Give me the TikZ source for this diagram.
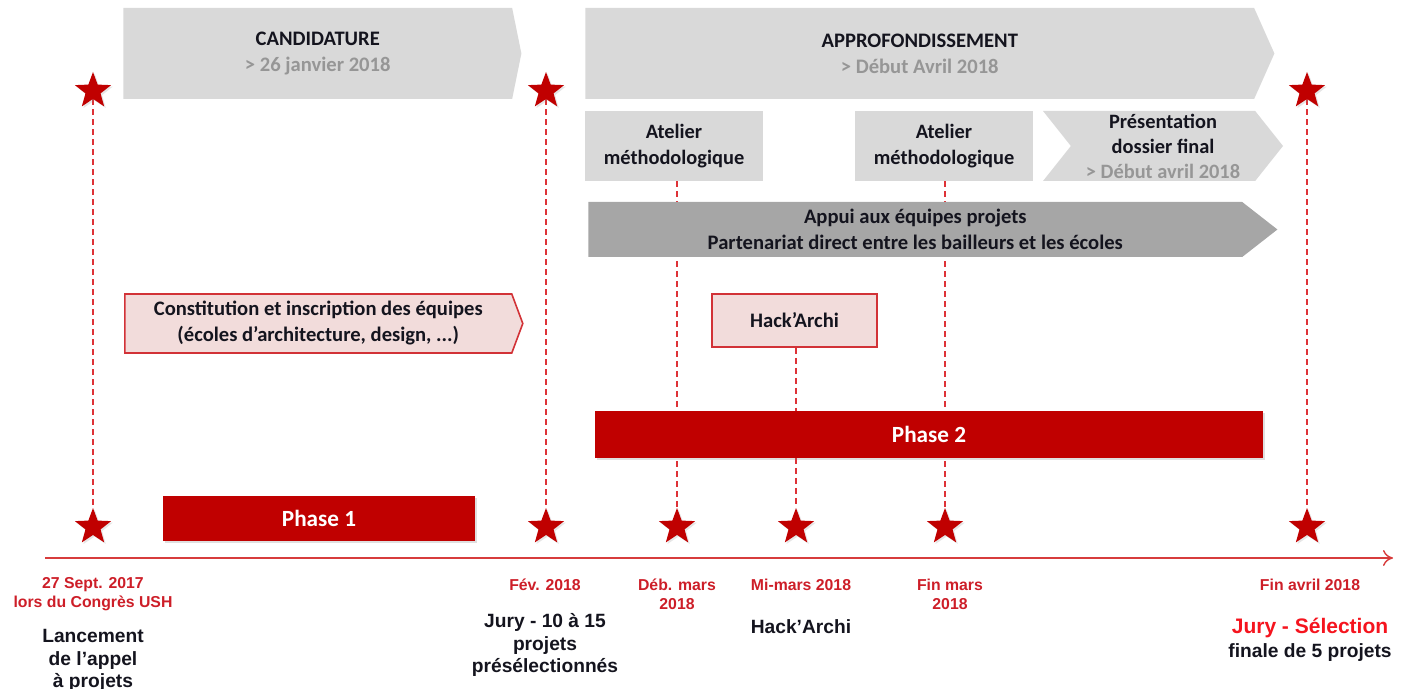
\documentclass[tikz,border=0pt]{standalone}
\usepackage{fontspec}
\setmainfont{Carlito}
\newfontfamily\arialfont{Liberation Sans}
\usetikzlibrary{arrows.meta, positioning, shapes.geometric, shapes.symbols, shadows}

\definecolor{boxgray}{HTML}{D9D9D9}
\definecolor{appuigray}{HTML}{A6A6A6}
\definecolor{pinkfill}{HTML}{F2DCDB}
\definecolor{pinkline}{RGB}{210,50,55}
\definecolor{phasered}{HTML}{C00000}
\definecolor{dashred}{RGB}{222,50,55}
\definecolor{axisred}{RGB}{215,60,60}
\definecolor{datered}{RGB}{205,30,40}
\definecolor{juryred}{RGB}{245,20,30}
\definecolor{subgray}{RGB}{150,150,150}
\definecolor{inkdark}{RGB}{20,20,30}

\pgfdeclarelayer{bg}
\pgfsetlayers{bg,main}

\begin{document}
\begin{tikzpicture}[
  x=0.5pt, y=-0.5pt,
  phasebar/.style={rectangle, fill=boxgray, text=inkdark, align=center,
                   font=\bfseries\fontsize{10.3}{13}\selectfont, inner sep=0pt},
  chevron/.style={phasebar, signal, signal to=east, anchor=west},
  pinkbox/.style={rectangle, draw=pinkline, fill=pinkfill, thick, text=inkdark,
                  align=center, font=\bfseries\fontsize{10.3}{13}\selectfont, inner sep=0pt},
  redbar/.style={rectangle, fill=phasered, text=white, inner sep=0pt,
                 font=\bfseries\fontsize{11.6}{13}\selectfont,
                 drop shadow={opacity=0.25, shadow xshift=1pt, shadow yshift=-1pt}},
  milestone/.style={star, star points=5, star point ratio=2.4, fill=phasered,
                    minimum size=19pt, inner sep=0pt,
                    drop shadow={opacity=0.2, shadow xshift=0.8pt, shadow yshift=-0.8pt}},
  guide/.style={dashred, dash pattern=on 3pt off 2pt, line width=0.8pt},
  datelbl/.style={align=center, text=datered, inner sep=0pt,
                  font=\arialfont\bfseries\fontsize{7.9}{9.5}\selectfont},
  desclbl/.style={align=center, text=inkdark, inner sep=0pt,
                  font=\arialfont\bfseries\fontsize{9.6}{11.3}\selectfont}
]
\useasboundingbox (0,0) rectangle (1407,689);

% top phases
\node[chevron, signal pointer angle=157, minimum width=199pt, minimum height=45.5pt]
  (cand) at (123,53.5) {CANDIDATURE\\{\color{subgray}> 26 janvier 2018}};
\node[chevron, signal pointer angle=132, minimum width=344.5pt, minimum height=45.5pt]
  (appro) at (585,53.5) {APPROFONDISSEMENT\\{\color{subgray}> Début Avril 2018}};

% second row
\node[phasebar, minimum width=89pt, minimum height=35pt, font=\bfseries\fontsize{10.2}{13}\selectfont]
  (at1) at (674,146) {Atelier\\méthodologique};
\node[phasebar, minimum width=89pt, minimum height=35pt, font=\bfseries\fontsize{10.2}{13}\selectfont]
  (at2) at (944,146) {Atelier\\méthodologique};
\node[chevron, signal from=west, anchor=center, signal pointer angle=103, minimum width=120pt,
      minimum height=35pt, font=\bfseries\fontsize{10.2}{12.5}\selectfont]
  (pres) at (1163,146) {Présentation\\dossier final\\{\color{subgray}> Début avril 2018}};

\node[chevron, fill=appuigray, signal pointer angle=76, minimum width=344.5pt,
      minimum height=27.5pt] (appui) at (588,229.5)
  {Appui aux équipes projets\\Partenariat direct entre les bailleurs et les écoles};

\node[pinkbox, signal, signal to=east, anchor=west, signal pointer angle=139, minimum width=199pt,
      minimum height=29.5pt] (constit) at (124,323.5)
  {Constitution et inscription des équipes\\(écoles d’architecture, design, ...)};
\node[pinkbox, minimum width=82.5pt, minimum height=26.5pt] (hack) at (794.5,320.5) {Hack’Archi};

% phases
\node[redbar, minimum width=334pt, minimum height=23.5pt] (ph2) at (929,434.5) {Phase 2};
\node[redbar, minimum width=156pt, minimum height=22.5pt] (ph1) at (319,518.5) {Phase 1};

% milestones
\node[milestone] (t1) at (93,91) {};
\node[milestone] (t2) at (546,91) {};
\node[milestone] (t3) at (1307,91) {};
\node[milestone] (b1) at (93,527) {};
\node[milestone] (b2) at (546,527) {};
\node[milestone] (b3) at (677,527) {};
\node[milestone] (b4) at (796,527) {};
\node[milestone] (b5) at (945,527) {};
\node[milestone] (b6) at (1307,527) {};

% time axis
\coordinate (axL) at (45,558);
\coordinate (axR) at (1393,558);
\draw[axisred, line width=0.7pt, -{To[length=5pt, width=8pt]}] (axL) -- (axR);

\begin{pgfonlayer}{bg}
  \draw[guide] (t1) -- (b1);
  \draw[guide] (t2) -- (b2);
  \draw[guide] (t3) -- (b6);
  \draw[guide] (at1.south -| b3) -- (b3);
  \draw[guide] (hack.south -| b4) -- (b4);
  \draw[guide] (at2.south -| b5) -- (b5);
\end{pgfonlayer}

% dates
\node[datelbl] (d1) at (93,594) {27 Sept. 2017\\lors du Congrès USH};
\node[datelbl] (d2) at (545,585) {Fév. 2018};
\node[datelbl] (d3) at (677,594) {Déb. mars\\2018};
\node[datelbl] (d4) at (801,585) {Mi-mars 2018};
\node[datelbl] (d5) at (950,594) {Fin mars\\2018};
\node[datelbl] (d6) at (1310,585) {Fin avril 2018};

% descriptions
\node[desclbl, below=9pt of d1] (e1) {Lancement\\de l’appel\\à projets};
\node[desclbl, below=11pt of d2] (e2) {Jury - 10 à 15\\projets\\présélectionnés};
\node[desclbl, below=14pt of d4] (e4) {Hack’Archi};
\node[desclbl, below=13pt of d6, text=juryred, font=\arialfont\bfseries\fontsize{10.5}{12}\selectfont]
  (e6) {Jury - Sélection};
\node[desclbl, below=2.5pt of e6] (e7) {finale de 5 projets};
\end{tikzpicture}
\end{document}
